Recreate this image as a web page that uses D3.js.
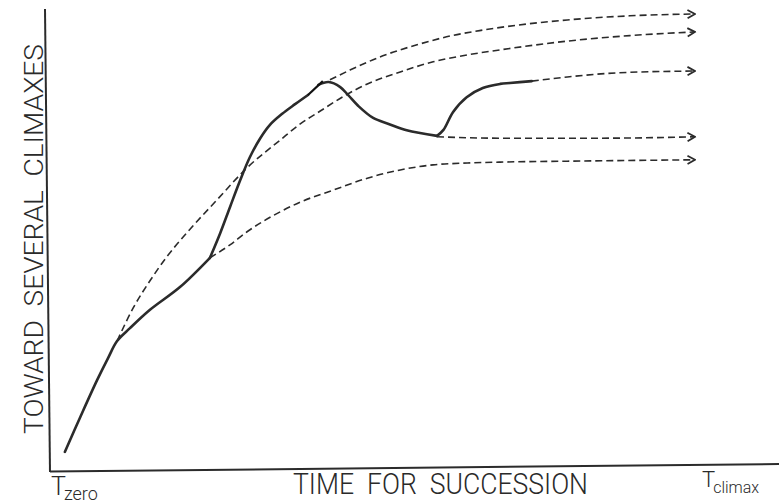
<!DOCTYPE html>
<html>
<head>
<meta charset="utf-8">
<script src="https://cdn.jsdelivr.net/npm/d3@7"></script>
<style>
  html, body { margin: 0; padding: 0; background: #fff; }
  svg { display: block; }
  text { font-family: Roboto, "Liberation Sans", Arial, sans-serif; font-weight: 300; fill: #2a2a2a; white-space: pre; }
</style>
</head>
<body>
<svg id="chart" width="784" height="503"></svg>
<script>
// ---- Data (time units 0..100 = Tzero..Tclimax, value units 0..100) ----
const xLabel = "TIME  FOR  SUCCESSION";
const yLabel = "TOWARD  SEVERAL  CLIMAXES";
const tickStart = "T";
const tickStartSub = "zero";
const tickEnd = "T";
const tickEndSub = "climax";

// Solid (actual) succession path, in pieces
const pioneerPath = [[2.3,3.5],[4.7,11.1],[7.3,19.1],[9.0,23.9],[10.4,27.6],[12.4,30.4],[15.5,34.4],[20.2,39.4],[24.8,45.7]];
const risePath = [[24.8,45.7],[26.4,51.1],[27.9,56.7],[29.5,62.6],[31.0,67.6],[32.6,71.7],[34.1,74.6],[36.0,77.0],[38.0,79.1],[40.0,81.1]];
const peakTick = [[40.0,81.1],[42.3,84.1]];
const declinePath = [[41.6,83.3],[43.2,83.9],[45.0,82.8],[46.2,81.1],[47.8,78.7],[50.1,76.1],[52.5,74.8],[55.3,73.4],[60.0,72.2]];
const recoveryPath = [[60.0,72.2],[61.0,73.5],[62.5,77.4],[64.6,80.6],[67.1,82.6],[69.8,83.5],[71.3,83.7],[74.7,84.1]];

// Dashed (potential) trajectories toward several climaxes
const climaxTop = [[43.4,84.4],[46.5,86.5],[51.6,89.6],[56.9,92.0],[62.0,93.9],[67.1,95.2],[80.2,97.4],[89.9,98.3],[100,98.7]];
const climaxSecond = [[10.4,27.6],[12.9,34.8],[15.5,40.7],[18.1,45.9],[21.2,51.1],[25.9,58.3],[30.5,65.2],[35.7,71.3],[38.8,74.8],[41.9,77.6],[45.4,80.7],[49.2,83.5],[54.3,86.1],[59.4,88.3],[64.7,89.8],[69.8,90.9],[80.2,92.8],[89.9,94.0],[100,94.8]];
const climaxRecovery = [[74.7,84.1],[80.2,85.0],[87.9,85.9],[100,86.3]];
const climaxFlat = [[60.0,72.0],[69.8,71.7],[85.3,71.7],[100,72.0]];
const climaxLow = [[24.8,45.7],[27.9,48.5],[30.5,51.3],[35.7,55.7],[38.8,57.8],[43.9,60.4],[49.2,63.0],[54.3,64.8],[59.4,65.9],[64.7,66.3],[69.8,66.5],[80.2,66.7],[100,67.0]];

const solidPaths = [pioneerPath, risePath, declinePath, recoveryPath];
const dashedPaths = [climaxTop, climaxSecond, climaxRecovery, climaxFlat, climaxLow];

// ---- Layout ----
const svg = d3.select("#chart");
const x = d3.scaleLinear().domain([0, 100]).range([50, 695]);
const y = d3.scaleLinear().domain([0, 100]).range([468, 8]);

const ink = "#2b2b2b";

// arrow marker
svg.append("defs").append("marker")
  .attr("id", "arrow")
  .attr("viewBox", "-1 -6 10 12")
  .attr("markerUnits", "userSpaceOnUse")
  .attr("markerWidth", 10).attr("markerHeight", 12)
  .attr("refX", 7.5).attr("refY", 0)
  .attr("orient", "auto")
  .append("path")
  .attr("d", "M0,-4.2L7.5,0L0,4.2")
  .attr("fill", "none")
  .attr("stroke", ink)
  .attr("stroke-width", 1.8)
  .attr("stroke-linejoin", "miter");

// axes (hand-drawn frame, slightly skewed like the scan)
svg.append("line").attr("x1", 45).attr("y1", 9).attr("x2", 50).attr("y2", 472)
  .attr("stroke", ink).attr("stroke-width", 2);
svg.append("line").attr("x1", 50).attr("y1", 471.5).attr("x2", 779).attr("y2", 464)
  .attr("stroke", ink).attr("stroke-width", 2);

const dashLine = d3.line().x(d => x(d[0])).y(d => y(d[1])).curve(d3.curveMonotoneX);
const solidLine = d3.line().x(d => x(d[0])).y(d => y(d[1])).curve(d3.curveCatmullRom.alpha(0.5));

// dashed trajectories
svg.append("g").selectAll("path").data(dashedPaths).join("path")
  .attr("d", dashLine)
  .attr("fill", "none")
  .attr("stroke", ink)
  .attr("stroke-width", 1.6)
  .attr("stroke-dasharray", "7,4")
  .attr("marker-end", d => d[d.length - 1][0] >= 100 ? "url(#arrow)" : null);

// solid path
svg.append("g").selectAll("path").data(solidPaths).join("path")
  .attr("d", solidLine)
  .attr("fill", "none")
  .attr("stroke", ink)
  .attr("stroke-width", 2.6)
  .attr("stroke-linecap", "round")
  .attr("stroke-linejoin", "round");

svg.append("path").datum(peakTick)
  .attr("d", d3.line().x(d => x(d[0])).y(d => y(d[1])))
  .attr("fill", "none").attr("stroke", "#111").attr("stroke-width", 2.2);

// labels
svg.append("text")
  .attr("transform", "translate(43,239) rotate(-90)")
  .attr("text-anchor", "middle")
  .attr("font-size", 25)
  .attr("textLength", 390)
  .attr("lengthAdjust", "spacingAndGlyphs")
  .text(yLabel);

svg.append("text")
  .attr("x", 293).attr("y", 494)
  .attr("font-size", 29)
  .attr("textLength", 295)
  .attr("lengthAdjust", "spacingAndGlyphs")
  .text(xLabel);

const t0 = svg.append("text").attr("x", x(0) + 1).attr("y", 495).attr("font-size", 25);
t0.append("tspan").text(tickStart);
t0.append("tspan").attr("dx", -2).attr("dy", 5).attr("font-size", 18).text(tickStartSub);

const t1 = svg.append("text").attr("x", x(100) + 7).attr("y", 487).attr("font-size", 22);
t1.append("tspan").text(tickEnd);
t1.append("tspan").attr("dx", -2).attr("dy", 6).attr("font-size", 16).text(tickEndSub);
</script>
</body>
</html>
